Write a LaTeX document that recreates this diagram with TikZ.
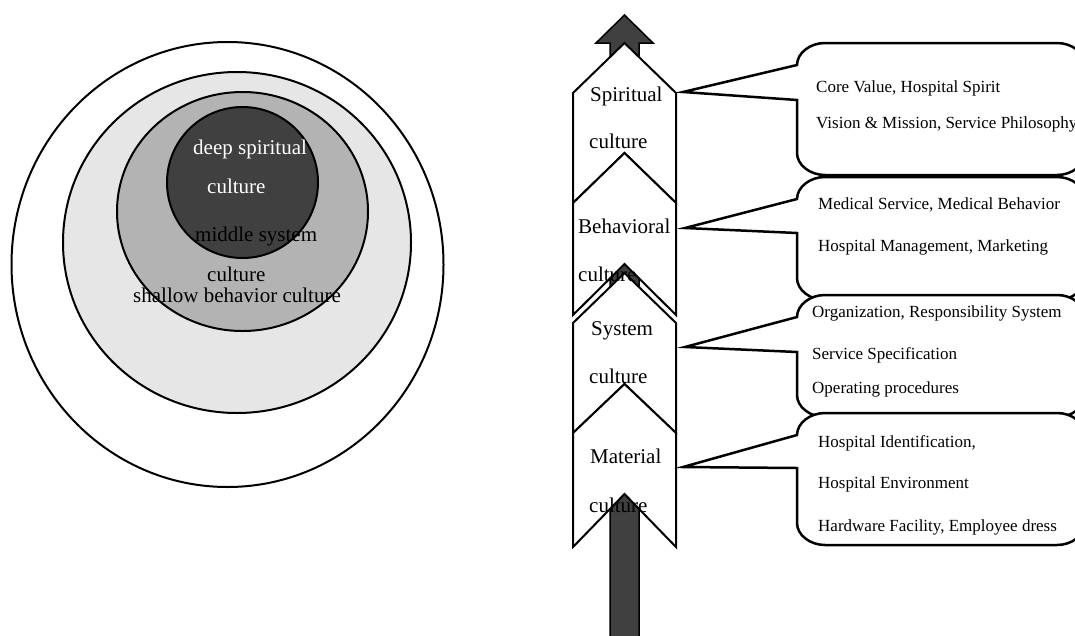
\documentclass[tikz,border=0pt]{standalone}
\usepackage{fontspec}
\setmainfont{Liberation Serif}
\definecolor{darkgrey}{HTML}{404040}
\definecolor{midgrey}{HTML}{B3B3B3}
\definecolor{lightgrey}{HTML}{E6E6E6}
% rounded speech bubble: left, top, right, bottom, tip x, tip y, lower end of the wedge base
\newcommand{\calloutshape}[7]{%
  \draw[bubble] (#1,#2+22) -- (#5,#6) -- (#1,#7) -- (#1,#4-22)
    .. controls (#1,#4-10) and (#1+13,#4) .. (#1+28,#4) -- (#3-28,#4)
    .. controls (#3-13,#4) and (#3,#4-10) .. (#3,#4-22) -- (#3,#2+22)
    .. controls (#3,#2+10) and (#3-13,#2) .. (#3-28,#2) -- (#1+28,#2)
    .. controls (#1+13,#2) and (#1,#2+10) .. (#1,#2+22) -- cycle;}
% chevron band: top tip, shoulders, bottom corners, notch apex
\newcommand{\chevronband}[4]{%
  \draw[chevbox] (573,#2) -- (624.5,#1) -- (676,#2) -- (676,#3)
    -- (624.5,#4) -- (573,#3) -- cycle;}
\begin{document}
\begin{tikzpicture}[x=1pt,y=-1pt,
  ring/.style={draw=black,line width=2pt},
  bigtxt/.style={font=\fontsize{21}{25}\selectfont,anchor=base west,inner sep=0pt},
  smalltxt/.style={font=\fontsize{17}{20}\selectfont,anchor=base west,inner sep=0pt},
  chevbox/.style={draw=black,fill=white,line width=2pt,line join=miter},
  bubble/.style={draw=black,fill=white,line width=2.5pt,line join=miter},
  spine/.style={draw=black,fill=darkgrey,line width=1.5pt,line join=miter}]
\useasboundingbox (0,0) rectangle (1075,635);

% ---- nested culture layers ----
\draw[ring,fill=white] (227.5,264.5) ellipse [x radius=216pt, y radius=222.5pt];
\draw[ring,fill=lightgrey] (237,242.5) ellipse [x radius=174pt, y radius=170.5pt];
\draw[ring,fill=midgrey] (242.5,211.5) ellipse [x radius=125.5pt, y radius=119.5pt];
\draw[ring,fill=darkgrey] (242.5,182.5) ellipse [x radius=75.5pt, y radius=75.5pt];

\node[bigtxt,text=white] (deep1) at (193,154) {deep spiritual};
\node[bigtxt,text=white] (deep2) at (207,193) {culture};
\node[bigtxt] (mid1) at (195,241) {middle system};
\node[bigtxt] (mid2) at (207,281) {culture};
\node[bigtxt] (shallow) at (133,302) {shallow behavior culture};

% ---- upward arrow behind the chevrons ----
\draw[spine] (610,645) -- (610,43) -- (596,43) -- (624.5,15) -- (653,43)
  -- (639,43) -- (639,645) -- cycle;

\chevronband{43}{93}{203}{153}
\chevronband{153}{203}{315}{264}
\chevronband{273}{323}{433}{384}
\chevronband{384}{433}{547}{494}

\node[bigtxt] (spi1) at (590,101) {Spiritual};
\node[bigtxt] (spi2) at (589,148) {culture};
\node[bigtxt] (beh1) at (578,233) {Behavioral};
\node[bigtxt] (beh2) at (578,281) {culture};
\node[bigtxt] (sys1) at (591,335) {System};
\node[bigtxt] (sys2) at (589,383) {culture};
\node[bigtxt] (mat1) at (590,463) {Material};
\node[bigtxt] (mat2) at (589,512) {culture};

% ---- speech bubbles ----
\calloutshape{797}{43}{1085}{175}{683}{92}{100}
\calloutshape{797}{177}{1085}{300}{685}{228}{233}
\calloutshape{797}{295}{1085}{417}{685}{347}{352}
\calloutshape{797}{413}{1085}{545}{683}{467}{468}

\node[smalltxt] (sp1) at (816,92) {Core Value, Hospital Spirit};
\node[smalltxt] (sp2) at (816,128) {Vision \& Mission, Service Philosophy};
\node[smalltxt] (bh1) at (818,209) {Medical Service, Medical Behavior};
\node[smalltxt] (bh2) at (818,251) {Hospital Management, Marketing};
\node[smalltxt] (sy1) at (812,317) {Organization, Responsibility System};
\node[smalltxt] (sy2) at (812,359) {Service Specification};
\node[smalltxt] (sy3) at (812,393) {Operating procedures};
\node[smalltxt] (ma1) at (818,447) {Hospital Identification,};
\node[smalltxt] (ma2) at (818,488) {Hospital Environment};
\node[smalltxt] (ma3) at (818,531) {Hardware Facility, Employee dress};
\end{tikzpicture}
\end{document}
